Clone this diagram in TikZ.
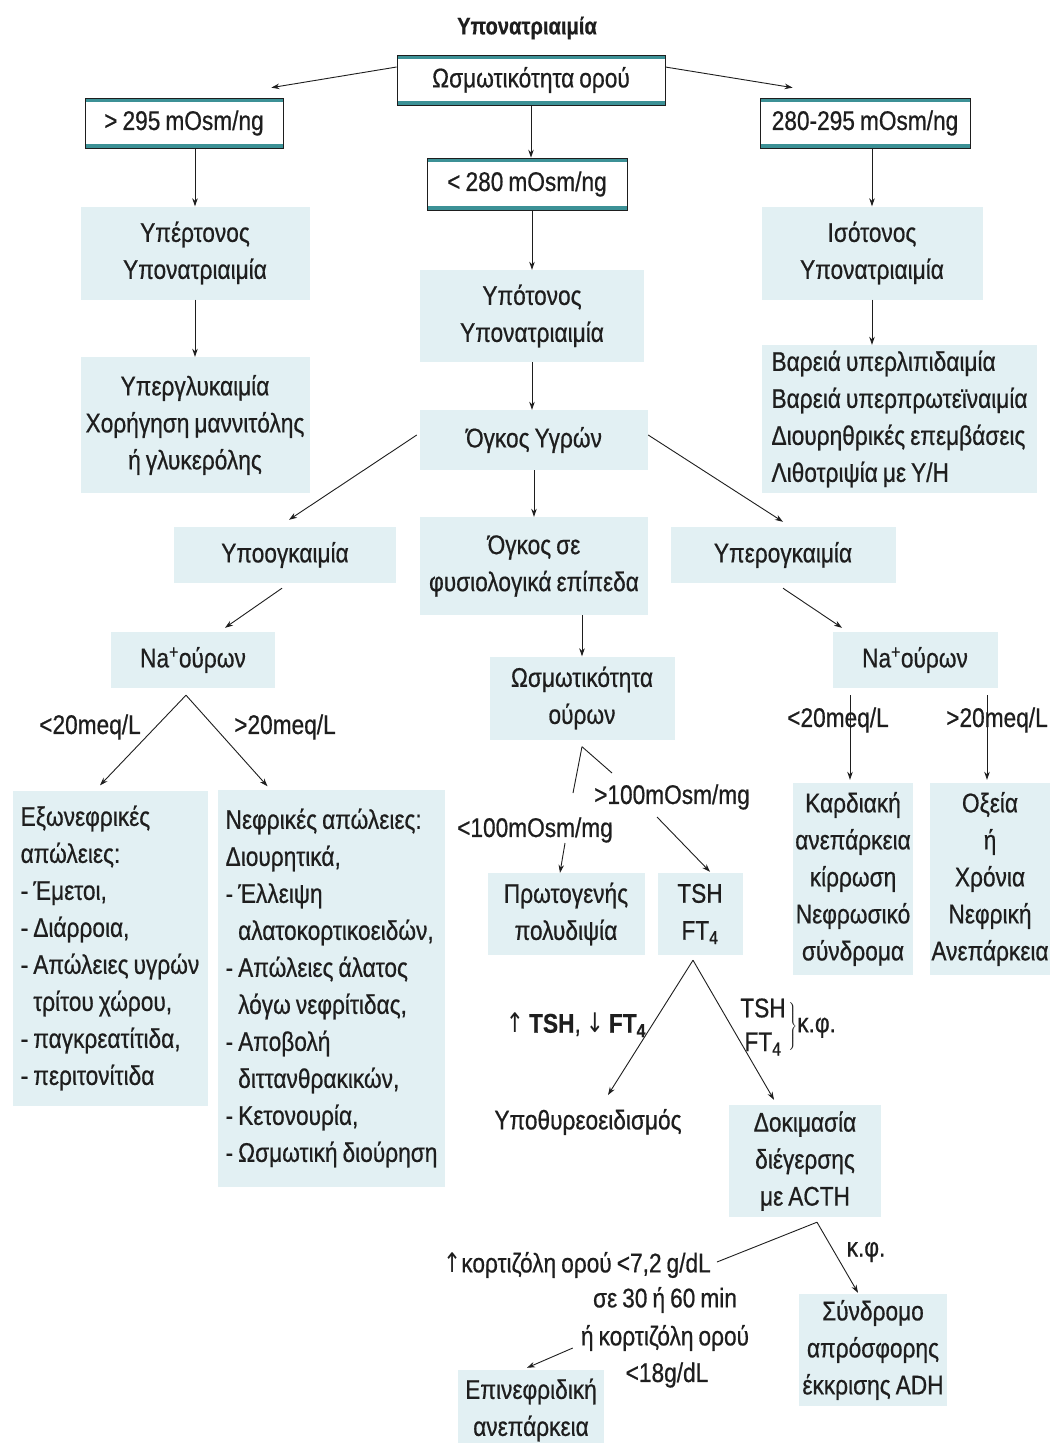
\documentclass[tikz,border=0pt]{standalone}
\usepackage{fontspec}
\setmainfont{Liberation Sans}[FakeStretch=0.84,WordSpace=0.8,FakeBold=0.6]
\newfontfamily\symfont{DejaVu Sans}[FakeStretch=0.8]
\usetikzlibrary{arrows.meta,calc}
\definecolor{shade}{RGB}{226,240,243}
\definecolor{boxteal}{RGB}{60,145,150}
\definecolor{ink}{RGB}{30,30,30}
\begin{document}
\begin{tikzpicture}[x=1pt,y=-1pt,
  txt/.style={font=\fontsize{27}{37}\selectfont, text=ink, inner sep=0pt, align=center},
  sbox/.style={txt, fill=shade},
  tbox/.style={txt, fill=white, draw=ink, line width=0.7pt,
    path picture={\draw[boxteal, line width=8pt]
      (path picture bounding box.north west) -- (path picture bounding box.north east)
      (path picture bounding box.south west) -- (path picture bounding box.south east);}},
  arr/.style={draw=ink, line width=0.9pt, -{Stealth[length=8pt,width=5.5pt]}},
  ln/.style={draw=ink, line width=0.9pt}]
\useasboundingbox (0,0) rectangle (1052,1443);
\fill[white] (0,0) rectangle (1052,1443);

% title and teal boxes
\node[txt, font=\bfseries\fontsize{24}{30}\selectfont] (title) at (527,28) {Υπονατριαιμία};
\node[tbox, minimum width=268, minimum height=50] (osmo) at (531,80) {Ωσμωτικότητα ορού};
\node[tbox, minimum width=198, minimum height=50] (gt295) at (184,123) {> 295 mOsm/ng};
\node[tbox, minimum width=200, minimum height=52] (lt280) at (527,184) {< 280 mOsm/ng};
\node[tbox, minimum width=210, minimum height=50] (r280) at (865,123) {280-295 mOsm/ng};

% shaded boxes, upper part
\node[sbox, minimum width=229, minimum height=93] (hyper) at (195,253) {Υπέρτονος\\Υπονατριαιμία};
\node[sbox, minimum width=229, minimum height=136] (hyperc) at (195,425) {Υπεργλυκαιμία\\Χορήγηση μαννιτόλης\\ή γλυκερόλης};
\node[sbox, minimum width=224, minimum height=92] (hypo) at (532,316) {Υπότονος\\Υπονατριαιμία};
\node[sbox, minimum width=228, minimum height=60] (volume) at (534,440) {Όγκος Υγρών};
\node[sbox, minimum width=221, minimum height=93] (iso) at (872,253) {Ισότονος\\Υπονατριαιμία};
\node[sbox, align=left, minimum width=275, minimum height=148] (isoc) at (899.5,419)
  {Βαρειά υπερλιπιδαιμία\\Βαρειά υπερπρωτεϊναιμία\\Διουρηθρικές επεμβάσεις\\Λιθοτριψία με Υ/Η};

\node[sbox, minimum width=222, minimum height=56] (hypovol) at (285,555) {Υποογκαιμία};
\node[sbox, minimum width=228, minimum height=98] (normvol) at (534,566) {Όγκος σε\\φυσιολογικά επίπεδα};
\node[sbox, minimum width=225, minimum height=56] (hypervol) at (783,555) {Υπερογκαιμία};
\node[sbox, minimum width=164, minimum height=56] (naL) at (193,660) {Na\textsuperscript{+}ούρων};
\node[sbox, minimum width=165, minimum height=56] (naR) at (915,660) {Na\textsuperscript{+}ούρων};
\node[sbox, minimum width=185, minimum height=83] (urosm) at (582,698) {Ωσμωτικότητα\\ούρων};

% lower boxes
\node[sbox, align=left, minimum width=195, minimum height=315] (extra) at (110,948)
  {Εξωνεφρικές\\απώλειες:\\- Έμετοι,\\- Διάρροια,\\- Απώλειες υγρών\\\hphantom{- }τρίτου χώρου,\\- παγκρεατίτιδα,\\- περιτονίτιδα};
\node[sbox, align=left, minimum width=227, minimum height=397] (renal) at (331.5,988)
  {Νεφρικές απώλειες:\\Διουρητικά,\\- Έλλειψη\\\hphantom{- }αλατοκορτικοειδών,\\- Απώλειες άλατος\\\hphantom{- }λόγω νεφρίτιδας,\\- Αποβολή\\\hphantom{- }διττανθρακικών,\\- Κετονουρία,\\- Ωσμωτική διούρηση};
\node[sbox, minimum width=120, minimum height=192] (cardiac) at (853,879) {Καρδιακή\\ανεπάρκεια\\κίρρωση\\Νεφρωσικό\\σύνδρομα};
\node[sbox, minimum width=120, minimum height=192] (acute) at (990,879) {Οξεία\\ή\\Χρόνια\\Νεφρική\\Ανεπάρκεια};
\node[sbox, minimum width=157, minimum height=82] (prim) at (566,914) {Πρωτογενής\\πολυδιψία};
\node[sbox, minimum width=85, minimum height=82] (tsh) at (700,914) {TSH\\FT\textsubscript{4}};
\node[txt] (hypoth) at (588,1122) {Υποθυρεοειδισμός};
\node[sbox, minimum width=152, minimum height=112] (acth) at (805,1161) {Δοκιμασία\\διέγερσης\\με ACTH};
\node[sbox, minimum width=148, minimum height=112] (siadh) at (873,1350) {Σύνδρομο\\απρόσφορης\\έκκρισης ADH};
\node[sbox, minimum width=146, minimum height=80] (adrenal) at (531,1410) {Επινεφριδική\\ανεπάρκεια};

% labels
\node[txt] (l1) at (90,727) {<20meq/L};
\node[txt] (l2) at (285,727) {>20meq/L};
\node[txt] (l3) at (838,720) {<20meq/L};
\node[txt] (l4) at (997,720) {>20meq/L};
\node[txt] (g100) at (672,797) {>100mOsm/mg};
\node[txt] (s100) at (535,830) {<100mOsm/mg};
\node[txt] (tshL) at (576,1025) {{\symfont ↑} \textbf{TSH}, {\symfont ↓} \textbf{FT\textsubscript{4}}};
\node[txt] (tshT) at (763,1008) {TSH};
\node[txt] (tshF) at (763,1044) {FT\textsubscript{4}};
\node[txt, anchor=west] (tshK) at (787,1026) {$\left.\rule{0pt}{30pt}\right\}$κ.φ.};
\node[txt] (kf) at (866,1252) {κ.φ.};
\node[txt] (cort1) at (577,1265) {{\symfont ↑}κορτιζόλη ορού <7,2 g/dL};
\node[txt] (cort2) at (665,1300) {σε 30 ή 60 min};
\node[txt] (cort3) at (665,1338) {ή κορτιζόλη ορού};
\node[txt] (cort4) at (667,1375) {<18g/dL};

% connectors
\draw[arr] ($(osmo.west)+(0,-13)$) -- ($(gt295.north east)+(-12,-10)$);
\draw[arr] ($(osmo.east)+(0,-13)$) -- ($(r280.north west)+(33,-10)$);
\draw[arr] (osmo.south) -- (osmo.south |- lt280.north);
\draw[arr] (hyper.north |- gt295.south) -- (hyper.north);
\draw[arr] (hyper.south) -- (hyperc.north);
\draw[arr] (hypo.north |- lt280.south) -- (hypo.north);
\draw[arr] (hypo.south) -- (hypo.south |- volume.north);
\draw[arr] (iso.north |- r280.south) -- (iso.north);
\draw[arr] (iso.south) -- (iso.south |- isoc.north);
\draw[arr] ($(volume.west)+(-3,-5)$) -- ($(hypovol.north)+(4,-7)$);
\draw[arr] (volume.south) -- (volume.south |- normvol.north);
\draw[arr] ($(volume.east)+(0,-5)$) -- ($(hypervol.north)+(0,-5)$);
\draw[arr] ($(hypovol.south)+(-3,5)$) -- ($(naL.north)+(32,-4)$);
\draw[arr] ($(hypervol.south)+(0,5)$) -- ($(naR.north)+(-73,-4)$);
\coordinate (apexL) at ($(naL.south)+(-7,7)$);
\draw[arr] (apexL) -- ($(extra.north)+(-10,-5)$);
\draw[arr] (apexL) -- ($(renal.north)+(-64,-3)$);
\draw[arr] ($(naR.south)+(-65,7)$) -- ($(cardiac.north)+(-3,-3)$);
\draw[arr] ($(naR.south)+(72,7)$) -- ($(acute.north)+(-3,-3)$);
\draw[arr] (urosm.north |- normvol.south) -- (urosm.north);
\coordinate (apexU) at ($(urosm.south)+(0,7)$);
\draw[ln] (apexU) -- ($(s100.center)+(38,-37)$);
\draw[ln] (apexU) -- ($(g100.center)+(-60,-24)$);
\draw[arr] ($(s100.center)+(30,13)$) -- ($(prim.north)+(-6,0)$);
\draw[arr] ($(g100.center)+(-15,20)$) -- ($(tsh.north)+(10,-1)$);
\coordinate (apexT) at ($(tsh.south)+(-7,5)$);
\draw[arr] (apexT) -- ($(hypoth.center)+(20,-27)$);
\draw[arr] (apexT) -- ($(acth.north)+(-31,-5)$);
\coordinate (apexA) at ($(acth.south)+(12,5)$);
\draw[ln] (apexA) -- ($(cort1.east)+(6,-3)$);
\draw[arr] (apexA) -- ($(siadh.north)+(-15,-1)$);
\draw[arr] ($(cort3.west)+(-8,10)$) -- ($(adrenal.north)+(-4,-2)$);
\end{tikzpicture}
\end{document}
